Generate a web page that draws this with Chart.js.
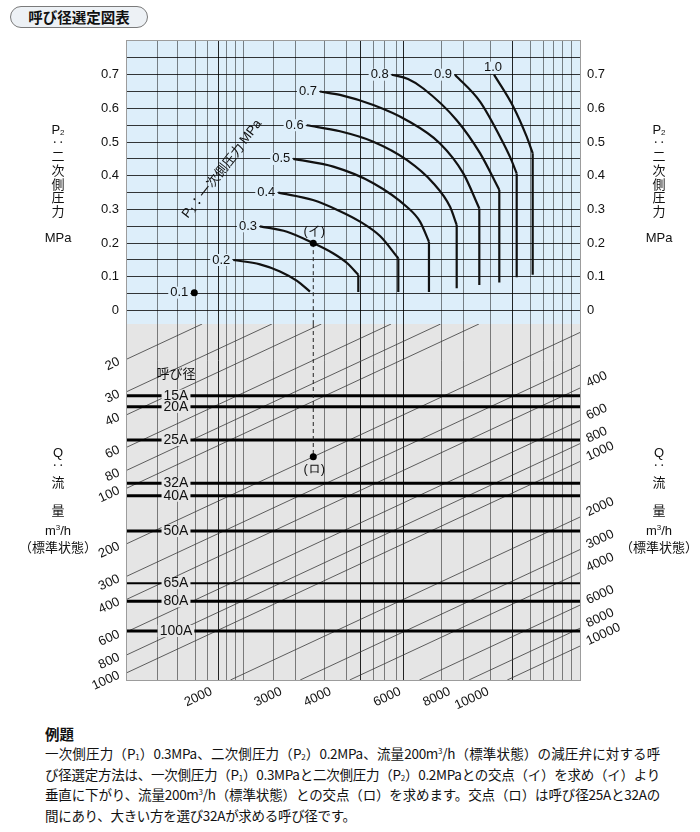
<!DOCTYPE html>
<html lang="ja">
<head>
<meta charset="utf-8">
<title>呼び径選定図表</title>
<script src="https://cdn.jsdelivr.net/npm/chart.js@4.4.1/dist/chart.umd.min.js"></script>
<style>
  html, body { margin: 0; padding: 0; background: #fff; }
  body {
    width: 700px; height: 832px; position: relative; overflow: hidden;
    font-family: "Liberation Sans", "Noto Sans CJK JP", sans-serif; color: #111;
  }
  #wrap { position: absolute; left: 0; top: 0; width: 700px; height: 720px; }
  .badge {
    position: absolute; left: 10px; top: 6px; width: 136px; height: 20px;
    border: 1px solid #7a7a7a; border-radius: 11px; background: #edf1f5;
    font: bold 14.5px "Noto Sans CJK JP", sans-serif; line-height: 20px; text-align: center;
  }
  .side {
    position: absolute; width: 100px; margin-left: -50px; text-align: center;
    font: 13px "Liberation Sans", "Noto Sans CJK JP", sans-serif; line-height: 14px;
  }
  sub, sup { line-height: 0; font-size: 8px; }
  sub { vertical-align: -1px; }
  sup { vertical-align: 5px; }
  .example { position: absolute; left: 45px; top: 724px; font-family: "Noto Sans CJK JP", sans-serif; }
  .example h2 { margin: 0; font-size: 14.5px; line-height: 19px; font-weight: bold; }
  .example div {
    width: 615px; font-size: 13.5px; line-height: 20.6px; height: 20.6px;
    white-space: nowrap; letter-spacing: -0.3px; text-align: justify; text-align-last: justify;
  }
  .example div.last { text-align-last: left; }
</style>
</head>
<body>
<div class="badge">呼び径選定図表</div>
<div id="wrap"><canvas id="nomogram" width="700" height="720"></canvas></div>
<div id="titles"></div>
<div class="example">
  <h2>例題</h2>
  <div>一次側圧力（P<sub>1</sub>）0.3MPa、二次側圧力（P<sub>2</sub>）0.2MPa、流量200m<sup>3</sup>/h（標準状態）の減圧弁に対する呼</div>
  <div>び径選定方法は、一次側圧力（P<sub>1</sub>）0.3MPaと二次側圧力（P<sub>2</sub>）0.2MPaとの交点（イ）を求め（イ）より</div>
  <div>垂直に下がり、流量200m<sup>3</sup>/h（標準状態）との交点（ロ）を求めます。交点（ロ）は呼び径25Aと32Aの</div>
  <div class="last">間にあり、大きい方を選び32Aが求める呼び径です。</div>
</div>
<script>
"use strict";

// ---- data --------------------------------------------------------------

// Flow factor F (horizontal, log) and the irregular vertical rulings.
const F_MIN = 1;
const F_MAX = 13.93;
const flowFactorGrid = [1.193, 1.340, 1.485, 1.597, 1.701, 1.786, 1.874, 1.967, 2.342, 2.657,
  3.153, 3.588, 3.898, 4.198, 4.482, 4.792, 5.006, 6.233, 7.056, 8.302, 9.419, 10.417,
  11.253, 11.928, 12.618, 13.272];
const flowFactorGridDark = [1.701, 3.898, 5.006, 9.419];

// Secondary pressure P2 (upper panel).
const P2_MIN = -0.04;
const P2_MAX = 0.8;
const p2Grid = [0, 0.05, 0.1, 0.15, 0.2, 0.25, 0.3, 0.35, 0.4, 0.45, 0.5, 0.55, 0.6, 0.65, 0.7, 0.75];
const p2Ticks = [0, 0.1, 0.2, 0.3, 0.4, 0.5, 0.6, 0.7];

// Primary pressure P1 curves: F and P2 along each arc, then the vertical drop.
const p1Levels = ["0.1", "0.2", "0.3", "0.4", "0.5", "0.6", "0.7", "0.8", "0.9", "1.0"];
const p1CurveF = [
  [1.479],
  [1.855, 2.167, 2.434, 2.688, 2.898],
  [2.167, 2.535, 2.954, 3.313, 3.594, 3.838],
  [2.411, 2.949, 3.451, 3.876, 4.355, 4.843],
  [2.630, 3.319, 4.188, 5.086, 5.495, 5.788],
  [2.843, 3.451, 4.188, 5.086, 5.936, 6.543, 6.801],
  [3.072, 3.451, 4.188, 5.086, 6.172, 7.067, 7.757],
  [4.661, 5.124, 5.602, 6.801, 7.789, 8.713],
  [6.734, 7.789, 8.748, 9.273, 9.640],
  [8.450, 9.452, 10.217, 10.580],
];
const p1CurveP2 = [
  [0.053],
  [0.150, 0.137, 0.116, 0.088, 0.056],
  [0.250, 0.234, 0.200, 0.170, 0.141, 0.106],
  [0.350, 0.328, 0.295, 0.264, 0.221, 0.155],
  [0.450, 0.427, 0.378, 0.308, 0.264, 0.204],
  [0.550, 0.532, 0.501, 0.447, 0.378, 0.308, 0.254],
  [0.650, 0.640, 0.610, 0.565, 0.496, 0.407, 0.303],
  [0.700, 0.687, 0.659, 0.565, 0.467, 0.358],
  [0.700, 0.620, 0.516, 0.456, 0.407],
  [0.700, 0.605, 0.516, 0.467],
];
const p1DropTo = [null, null, 0.055, 0.055, 0.055, 0.066, 0.076, 0.083, 0.099, 0.106];

// Lower panel: valve capacity K = Q / F (log, grows downwards).
const K_MIN = 12.92;
const K_MAX = 1096;
const sizeNames = ["15A", "20A", "25A", "32A", "40A", "50A", "65A", "80A", "100A"];
const sizeCapacity = [31.6, 36.3, 54.9, 94.3, 110, 171, 328, 411, 595];

// Flow Q (m3/h, normal conditions): diagonal lines and where each is labelled.
const flowLines = [20, 30, 40, 60, 80, 100, 200, 300, 400, 600, 800, 1000, 2000, 3000, 4000, 6000, 8000, 10000];
const flowLabelsLeft = [20, 30, 40, 60, 80, 100, 200, 300, 400, 600, 800, 1000];
const flowLabelsRight = [400, 600, 800, 1000, 2000, 3000, 4000, 6000, 8000, 10000];
const flowLabelsBottom = [2000, 3000, 4000, 6000, 8000, 10000];

// Worked example: P1 0.3, P2 0.2 -> point (イ) at F, then Q 200 -> point (ロ).
const exampleP2 = 0.2;
const exampleF = 2.954;
const exampleQ = 200;

// ---- styling -------------------------------------------------------------

const INK = "#111";
const BLUE = "#ddeefa";
const GRAY = "#e5e5e5";
const LATIN = '"Liberation Sans", Arial, sans-serif';
const CJK = '"Noto Sans CJK JP", sans-serif';

// Side titles (vertical Japanese setting), identical on both sides.
const sideTitle = [
  ["P<sub>2</sub>", 130], ["‥", 143], ["二", 157], ["次", 171], ["側", 185], ["圧", 198],
  ["力", 212], ["MPa", 238], ["Q", 453], ["‥", 466], ["流", 483], ["量", 511],
  ["m<sup>3</sup>/h", 531], ["（標準状態）", 548],
];

function buildTitles() {
  const holder = document.getElementById("titles");
  for (const cx of [58, 659]) {
    for (const [html, cy] of sideTitle) {
      const div = document.createElement("div");
      div.className = "side";
      div.style.left = cx + "px";
      div.style.top = (cy - 7) + "px";
      div.innerHTML = html;
      holder.append(div);
    }
  }
}

/** A flow line runs where Q = K * F, clipped to the lower panel. */
function flowSegment(q) {
  const start = q <= K_MAX ? { x: F_MIN, y: q } : { x: q / K_MAX, y: K_MAX };
  const end = q / F_MAX >= K_MIN ? { x: F_MAX, y: q / F_MAX } : { x: q / K_MIN, y: K_MIN };
  return [start, end];
}

function line(data, yAxisID, width, order, extra = {}) {
  return Object.assign({
    data, yAxisID, xAxisID: "x", borderColor: INK, borderWidth: width,
    pointRadius: 0, fill: false, tension: 0, order,
  }, extra);
}

function buildDatasets() {
  const sets = [];
  for (const q of flowLines) sets.push(line(flowSegment(q), "yBot", 0.8, 5, { borderColor: "#3a3a3a" }));
  sizeNames.forEach((name, i) => {
    const k = sizeCapacity[i];
    sets.push(line([{ x: F_MIN, y: k }, { x: F_MAX, y: k }], "yBot", name === "65A" ? 2 : 3, 4, { borderColor: "#000" }));
  });
  p1Levels.forEach((level, i) => {
    const pts = p1CurveF[i].map((f, j) => ({ x: f, y: p1CurveP2[i][j] }));
    if (pts.length === 1) {
      sets.push(line(pts, "yTop", 0, 0, { showLine: false, pointRadius: 3.5, pointBackgroundColor: "#000", pointBorderWidth: 0 }));
      return;
    }
    sets.push(line(pts, "yTop", 2.2, 2, { cubicInterpolationMode: "monotone" }));
    if (p1DropTo[i] !== null) {
      const last = pts[pts.length - 1];
      sets.push(line([last, { x: last.x, y: p1DropTo[i] }], "yTop", 2.2, 2));
    }
  });
  // Dashed construction line from (イ) down to (ロ), across both panels.
  const dash = { borderDash: [4, 3], borderColor: "#222" };
  sets.push(line([{ x: exampleF, y: exampleP2 }, { x: exampleF, y: P2_MIN }], "yTop", 1, 1, dash));
  sets.push(line([{ x: exampleF, y: K_MIN }, { x: exampleF, y: exampleQ / exampleF }], "yBot", 1, 1, dash));
  const dot = { showLine: false, pointRadius: 3.5, pointBackgroundColor: "#000", pointBorderWidth: 0 };
  sets.push(line([{ x: exampleF, y: exampleP2 }], "yTop", 0, 0, dot));
  sets.push(line([{ x: exampleF, y: exampleQ / exampleF }], "yBot", 0, 0, dot));
  return sets;
}

/** Text with a patch of background behind it, so rulings break around it. */
function boxedText(ctx, text, px, py, align, bg) {
  const w = ctx.measureText(text).width;
  const left = align === "right" ? px - w : align === "center" ? px - w / 2 : px;
  ctx.fillStyle = bg;
  ctx.fillRect(left - 2, py - 6, w + 4, 12);
  ctx.fillStyle = INK;
  ctx.textAlign = align;
  ctx.textBaseline = "middle";
  ctx.fillText(text, px, py);
}

function rotatedText(ctx, text, px, py, angle, align) {
  ctx.save();
  ctx.translate(px, py);
  ctx.rotate(-angle);
  ctx.textAlign = align;
  ctx.textBaseline = "middle";
  ctx.fillText(text, 0, 0);
  ctx.restore();
}

const nomogramPlugin = {
  id: "nomogram",
  beforeDraw(chart) {
    const { ctx, chartArea: area, scales: { yTop, yBot } } = chart;
    ctx.save();
    ctx.fillStyle = BLUE;
    ctx.fillRect(area.left, yTop.top, area.width, yTop.bottom - yTop.top);
    ctx.fillStyle = GRAY;
    ctx.fillRect(area.left, yBot.top, area.width, yBot.bottom - yBot.top);
    ctx.restore();
  },
  afterDraw(chart) {
    const { ctx, chartArea: area, scales: { x, yTop, yBot } } = chart;
    ctx.save();
    ctx.strokeStyle = "#9c9c9c";
    ctx.lineWidth = 1;
    ctx.strokeRect(area.left - 0.5, area.top - 0.5, area.width + 1, area.height + 1);
    ctx.fillStyle = INK;

    // P2 tick labels on both sides.
    ctx.font = `13px ${LATIN}`;
    ctx.textBaseline = "middle";
    for (const v of p2Ticks) {
      const py = yTop.getPixelForValue(v);
      const label = v === 0 ? "0" : v.toFixed(1);
      ctx.textAlign = "right";
      ctx.fillText(label, area.left - 8, py);
      ctx.textAlign = "left";
      ctx.fillText(label, area.right + 7, py);
    }

    // P1 curve labels.
    p1Levels.forEach((level, i) => {
      const sx = x.getPixelForValue(p1CurveF[i][0]);
      const sy = yTop.getPixelForValue(p1CurveP2[i][0]);
      if (p1CurveF[i].length === 1) boxedText(ctx, level, sx - 6, sy, "right", BLUE);
      else if (level === "1.0") boxedText(ctx, level, sx - 1, sy - 7, "center", BLUE);
      else boxedText(ctx, level, sx - 3, sy, "right", BLUE);
    });

    // Example point labels.
    const ex = x.getPixelForValue(exampleF);
    ctx.textAlign = "center";
    ctx.fillText("(イ)", ex + 1, yTop.getPixelForValue(exampleP2) - 12);
    ctx.fillText("(ロ)", ex + 1, yBot.getPixelForValue(exampleQ / exampleF) + 13);

    // Rotated P1 axis title.
    ctx.save();
    ctx.translate(222, 169);
    ctx.rotate(-52 * Math.PI / 180);
    const parts = [["P", `13px ${LATIN}`, 0], ["1", `8px ${LATIN}`, 3], ["：一次側圧力 ", `13px ${CJK}`, 0], ["MPa", `13px ${LATIN}`, 0]];
    let total = 0;
    for (const [t, f] of parts) { ctx.font = f; total += ctx.measureText(t).width; }
    let cx = -total / 2;
    ctx.textAlign = "left";
    for (const [t, f, dy] of parts) {
      ctx.font = f;
      ctx.fillText(t, cx, dy);
      cx += ctx.measureText(t).width;
    }
    ctx.restore();

    // Nominal size labels.
    ctx.font = `14px ${LATIN}`;
    const labelX = area.left + 49;
    sizeNames.forEach((name, i) => boxedText(ctx, name, labelX, yBot.getPixelForValue(sizeCapacity[i]), "center", GRAY));
    ctx.font = `13px ${CJK}`;
    ctx.textAlign = "center";
    ctx.fillText("呼び径", labelX, yBot.getPixelForValue(sizeCapacity[0]) - 23);

    // Flow labels, set along the slope of the diagonals.
    const angle = Math.atan2(yBot.getPixelForValue(100) - yBot.getPixelForValue(10),
      x.getPixelForValue(10) - x.getPixelForValue(1));
    ctx.font = `13px ${LATIN}`;
    for (const q of flowLabelsLeft) rotatedText(ctx, String(q), area.left - 8, yBot.getPixelForValue(q) + 2, angle, "right");
    for (const q of flowLabelsRight) rotatedText(ctx, String(q), area.right + 7, yBot.getPixelForValue(q / F_MAX) - 4, angle, "left");
    for (const q of flowLabelsBottom) rotatedText(ctx, String(q), x.getPixelForValue(q / K_MAX) - 19, area.bottom + 11, angle, "right");
    ctx.restore();
  },
};

const hidden = { display: false };

function init() {
  buildTitles();
  new Chart(document.getElementById("nomogram"), {
    type: "line",
    data: { datasets: buildDatasets() },
    options: {
      responsive: false,
      animation: false,
      devicePixelRatio: 1,
      layout: { padding: { left: 127, right: 120, top: 41, bottom: 40 } },
      plugins: { legend: hidden, tooltip: { enabled: false } },
      scales: {
        x: {
          type: "logarithmic", min: F_MIN, max: F_MAX, bounds: "data",
          afterBuildTicks: (s) => { s.ticks = flowFactorGrid.map((value) => ({ value })); },
          afterFit: (s) => { s.height = 0; },
          grid: {
            drawTicks: false, lineWidth: 1,
            color: (c) => (c.tick && flowFactorGridDark.includes(c.tick.value) ? "rgba(0,0,0,0.85)" : "rgba(0,0,0,0.47)"),
          },
          border: hidden, ticks: hidden,
        },
        yTop: {
          type: "linear", position: "left", stack: "panels", stackWeight: 283, weight: 1,
          min: P2_MIN, max: P2_MAX,
          afterBuildTicks: (s) => { s.ticks = p2Grid.map((value) => ({ value })); },
          afterFit: (s) => { s.width = 0; },
          grid: { drawTicks: false, color: "rgba(0,0,0,0.78)", lineWidth: 1 },
          border: hidden, ticks: hidden,
        },
        yBot: {
          type: "logarithmic", position: "left", stack: "panels", stackWeight: 356, weight: 0,
          reverse: true, min: K_MIN, max: K_MAX, bounds: "data",
          afterFit: (s) => { s.width = 0; },
          grid: hidden, border: hidden, ticks: hidden,
        },
      },
    },
    plugins: [nomogramPlugin],
  });
}

document.addEventListener("DOMContentLoaded", init);
</script>
</body>
</html>
